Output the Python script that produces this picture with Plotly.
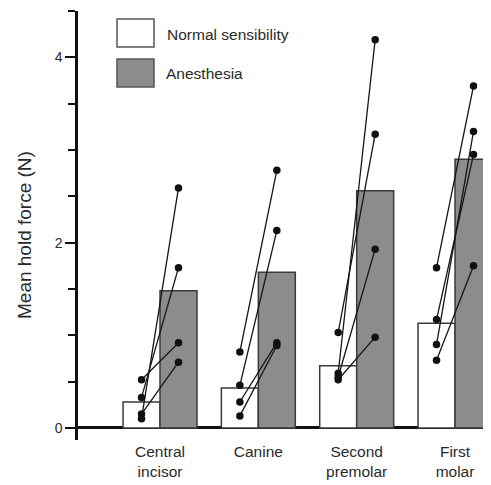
import numpy as np
import plotly.graph_objects as go

# ---- data ----
categories = ["Central<br>incisor", "Canine", "Second<br>premolar", "First<br>molar"]
normal_mean = [0.28, 0.43, 0.67, 1.13]
anesthesia_mean = [1.48, 1.68, 2.56, 2.90]

# individual subjects (paired normal -> anesthesia)
ci_normal = [0.10, 0.33, 0.52, 0.15]
ci_anesthesia = [2.59, 1.73, 0.92, 0.71]
canine_normal = [0.82, 0.46, 0.28, 0.13]
canine_anesthesia = [2.78, 2.13, 0.92, 0.89]
premolar_normal = [1.03, 0.59, 0.55, 0.52]
premolar_anesthesia = [3.17, 4.19, 1.93, 0.98]
molar_normal = [1.73, 1.17, 0.90, 0.73]
molar_anesthesia = [3.69, 2.95, 3.20, 1.75]

subjects_normal = [ci_normal, canine_normal, premolar_normal, molar_normal]
subjects_anesthesia = [ci_anesthesia, canine_anesthesia, premolar_anesthesia, molar_anesthesia]

y_tickvals = [0, 2, 4]
legend_labels = ["Normal sensibility", "Anesthesia"]

# ---- layout constants ----
# the page body has an 8px margin, so the figure is drawn 8px smaller and
# every pixel position below is given in page coordinates, shifted by OFF.
OFF = 8
W, H = 491 - OFF, 485 - OFF
ML, MR, MT, MB = 78 - OFF, 0, 11 - OFF, 45
PW, PH = W - ML - MR, H - MT - MB
BW = 0.376
GREY = "#8c8c8c"
EDGE = "#3a3a3a"
FONT = "Liberation Sans, Arial, Helvetica, sans-serif"
TXT = "#2a2a2a"


def px_x(p):
    return (p - OFF - ML) / PW


def px_y(p):
    return (H - MB - (p - OFF)) / PH


idx = np.arange(len(categories))
x_norm = idx - BW / 2
x_anes = idx + BW / 2

fig = go.Figure()
fig.add_trace(go.Bar(x=x_norm, y=normal_mean, width=BW, marker=dict(color="white", line=dict(color=EDGE, width=1.5)),
                     name=legend_labels[0], showlegend=False))
fig.add_trace(go.Bar(x=x_anes, y=anesthesia_mean, width=BW, marker=dict(color=GREY, line=dict(color=EDGE, width=1.5)),
                     name=legend_labels[1], showlegend=False))

for i in range(len(categories)):
    for a, b in zip(subjects_normal[i], subjects_anesthesia[i]):
        fig.add_trace(go.Scatter(x=[x_norm[i], x_anes[i]], y=[a, b], mode="lines+markers",
                                 line=dict(color="#151515", width=1.3),
                                 marker=dict(color="#111111", size=7.5),
                                 showlegend=False, hoverinfo="skip"))

# legend drawn by hand (big swatches)
shapes = [
    dict(type="rect", xref="paper", yref="paper", x0=px_x(117), x1=px_x(154), y0=px_y(47), y1=px_y(19),
         fillcolor="white", line=dict(color="#555555", width=1.5)),
    dict(type="rect", xref="paper", yref="paper", x0=px_x(117), x1=px_x(154), y0=px_y(87), y1=px_y(59),
         fillcolor=GREY, line=dict(color="#555555", width=1.5)),
]
annotations = [
    dict(text=legend_labels[0], xref="paper", yref="paper", x=px_x(165), y=px_y(35), xanchor="left",
         yanchor="middle", showarrow=False, font=dict(family=FONT, size=15.5, color=TXT)),
    dict(text=legend_labels[1], xref="paper", yref="paper", x=px_x(164), y=px_y(73), xanchor="left",
         yanchor="middle", showarrow=False, font=dict(family=FONT, size=15.5, color=TXT)),
    dict(text="Mean hold force (N)", xref="paper", yref="paper", x=px_x(24), y=px_y(235), xanchor="center",
         yanchor="middle", textangle=-90, showarrow=False, font=dict(family=FONT, size=19, color=TXT)),
]

fig.update_layout(
    width=W, height=H,
    margin=dict(l=ML, r=MR, t=MT, b=MB, pad=0),
    plot_bgcolor="white", paper_bgcolor="white",
    barmode="overlay",
    shapes=shapes, annotations=annotations,
    showlegend=False,
    font=dict(family=FONT, color=TXT),
)
fig.update_xaxes(range=[-0.834, 3.366], tickvals=idx, ticktext=categories, ticks="", showline=False,
                 showgrid=False, zeroline=False, tickfont=dict(family=FONT, size=15.5, color=TXT))
fig.update_yaxes(range=[-0.13, 4.5], tickvals=y_tickvals, ticks="outside", ticklen=10, tickwidth=2,
                 tickcolor="#111111", showline=True, linecolor="#111111", linewidth=2.5,
                 showgrid=False, zeroline=True, zerolinecolor="#111111", zerolinewidth=2.5,
                 tickfont=dict(family=FONT, size=14, color=TXT),
                 minor=dict(dtick=0.5, tick0=0, ticks="outside", ticklen=7, tickwidth=2, tickcolor="#111111",
                            showgrid=False))

fig.write_html("out.html")
